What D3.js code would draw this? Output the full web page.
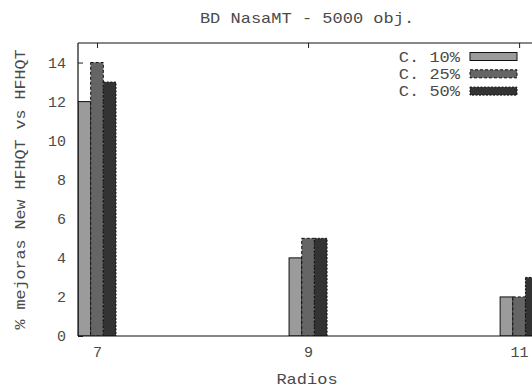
<!DOCTYPE html>
<html>
<head>
<meta charset="utf-8">
<script src="https://cdn.jsdelivr.net/npm/d3@7"></script>
<style>
  body { margin: 0; background: #fff; }
  text { font-family: "Liberation Mono", "DejaVu Sans Mono", monospace; fill: #4a4a4a; }
</style>
</head>
<body>
<svg id="chart" width="532" height="389"></svg>
<script>
// chart data
const radios = [7, 9, 11];
const seriesNames = ["C. 10%", "C. 25%", "C. 50%"];
const c10 = [12, 4, 2];
const c25 = [14, 5, 2];
const c50 = [13, 5, 3];
const yTicks = [0, 2, 4, 6, 8, 10, 12, 14];

const title = "BD NasaMT - 5000 obj.";
const xLabel = "Radios";
const yLabel = "% mejoras New HFHQT vs HFHQT";

const svg = d3.select("#chart");
const width = 532, height = 389;
const margin = { top: 43, left: 78 };
const plotRight = 536, plotBottom = 336;
const charW = 10.2;

svg.append("rect").attr("width", width).attr("height", height).attr("fill", "#fff");

const x = d3.scaleLinear().domain([6.82, 11.16]).range([margin.left, plotRight]);
const y = d3.scaleLinear().domain([0, 15]).range([plotBottom, margin.top]);
const barW = 0.12;

const styles = [
  { fill: "#9b9b9b", dash: null },
  { fill: "#656565", dash: "3,2" },
  { fill: "#333333", dash: "2,1.5" }
];

const data = radios.map((r, i) => ({ r, values: [c10[i], c25[i], c50[i]] }));

// ticks (inward, gnuplot style)
const yAxis = svg.append("g")
  .attr("transform", `translate(${margin.left},0)`)
  .call(d3.axisLeft(y).tickValues(yTicks).tickFormat(d3.format("d")).tickSize(-5).tickPadding(12));
const xAxis = svg.append("g")
  .attr("transform", `translate(0,${plotBottom})`)
  .call(d3.axisBottom(x).tickValues(radios).tickFormat(d3.format("d")).tickSize(-5).tickPadding(13));
const topAxis = svg.append("g")
  .attr("transform", `translate(0,${margin.top})`)
  .call(d3.axisTop(x).tickValues(radios).tickSize(-5).tickFormat(""));

[yAxis, xAxis, topAxis].forEach(g => {
  g.select(".domain").remove();
  g.selectAll(".tick line").attr("stroke", "#222");
  g.selectAll(".tick text")
    .style("font-size", "15px")
    .attr("fill", "#4a4a4a")
    .style("font-family", "Liberation Mono, monospace");
});
xAxis.selectAll(".tick text").attr("dy", "0.55em");

// bars
svg.append("clipPath").attr("id", "clip")
  .append("rect")
  .attr("x", margin.left).attr("y", margin.top)
  .attr("width", plotRight - margin.left).attr("height", plotBottom - margin.top);

svg.append("g")
  .attr("clip-path", "url(#clip)")
  .selectAll("g")
  .data(data)
  .join("g")
  .selectAll("rect")
  .data(d => d.values.map((v, k) => ({ r: d.r, v, k })))
  .join("rect")
  .attr("x", d => x(d.r + (d.k - 1.5) * barW))
  .attr("y", d => y(d.v))
  .attr("width", d => x(d.r + barW) - x(d.r))
  .attr("height", d => y(0) - y(d.v))
  .attr("fill", d => styles[d.k].fill)
  .attr("stroke", "#111")
  .attr("stroke-width", 1)
  .attr("stroke-dasharray", d => styles[d.k].dash);

// frame (right side is off the picture)
const frame = svg.append("g").attr("stroke", "#111").attr("stroke-width", 1.2).attr("fill", "none");
frame.append("line").attr("x1", margin.left).attr("x2", margin.left).attr("y1", margin.top).attr("y2", plotBottom);
frame.append("line").attr("x1", margin.left).attr("x2", plotRight).attr("y1", margin.top).attr("y2", margin.top);
frame.append("line").attr("x1", margin.left).attr("x2", plotRight).attr("y1", plotBottom).attr("y2", plotBottom);

// legend
const legend = svg.append("g");
seriesNames.forEach((name, k) => {
  const ly = 56.5 + k * 17.3;
  legend.append("text")
    .attr("x", 460).attr("y", ly).attr("dy", "0.35em")
    .attr("text-anchor", "end")
    .style("font-size", "15px")
    .attr("textLength", name.length * charW)
    .attr("lengthAdjust", "spacingAndGlyphs")
    .text(name);
  legend.append("rect")
    .attr("x", 470).attr("y", ly - 4)
    .attr("width", 47).attr("height", 8)
    .attr("fill", styles[k].fill)
    .attr("stroke", "#111")
    .attr("stroke-dasharray", styles[k].dash);
});

// titles
const cx = (margin.left + plotRight) / 2;
svg.append("text")
  .attr("x", cx).attr("y", 18).attr("dy", "0.35em")
  .attr("text-anchor", "middle")
  .style("font-size", "15px")
  .attr("textLength", title.length * charW)
  .attr("lengthAdjust", "spacingAndGlyphs")
  .text(title);

svg.append("text")
  .attr("x", cx).attr("y", 379).attr("dy", "0.35em")
  .attr("text-anchor", "middle")
  .style("font-size", "15px")
  .attr("textLength", xLabel.length * charW)
  .attr("lengthAdjust", "spacingAndGlyphs")
  .text(xLabel);

svg.append("text")
  .attr("transform", `translate(20,${(margin.top + plotBottom) / 2}) rotate(-90)`)
  .attr("dy", "0.35em")
  .attr("text-anchor", "middle")
  .style("font-size", "15px")
  .attr("textLength", yLabel.length * 10)
  .attr("lengthAdjust", "spacingAndGlyphs")
  .text(yLabel);
</script>
</body>
</html>
